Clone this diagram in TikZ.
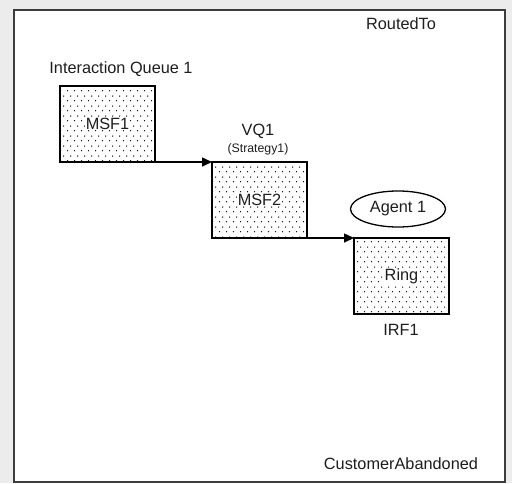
\documentclass[tikz,border=0pt]{standalone}
\usepackage{fontspec}
\setmainfont{Liberation Sans}
\usetikzlibrary{arrows.meta,shapes.geometric,patterns.meta}
\definecolor{outerbg}{HTML}{ECECEC}
\definecolor{framecol}{HTML}{3C3C3C}
\definecolor{txtcol}{HTML}{1E1E1E}
\tikzdeclarepattern{
  name=stagdots,
  type=colored,
  bounding box={(0pt,0pt) and (6.6pt,10pt)},
  tile size={(6.6pt,10pt)},
  code={
    \fill[black] (1.6pt,2.5pt) circle (0.75pt);
    \fill[black] (4.9pt,7.5pt) circle (0.75pt);
  }
}
\tikzset{
  dotbox/.style={draw=black, line width=1.8pt, rectangle, minimum width=95pt, minimum height=76pt, inner sep=0pt, outer sep=0pt, pattern=stagdots},
  boxtext/.style={fill=white, inner sep=0.5pt, font=\fontsize{16.3}{18}\selectfont, text=txtcol},
  lbl/.style={inner sep=0pt, font=\fontsize{16.3}{18}\selectfont, text=txtcol},
  smalllbl/.style={inner sep=0pt, font=\fontsize{12.3}{14}\selectfont, text=txtcol},
  flow/.style={draw=black, line width=1.5pt, -{Triangle[length=10pt,width=9pt]}},
  agentshape/.style={ellipse, draw=black, line width=1.3pt, minimum width=95pt, minimum height=36pt, inner sep=0pt, font=\fontsize{16.3}{18}\selectfont, text=txtcol}
}
\begin{document}
\begin{tikzpicture}[x=1pt,y=-1pt]
\useasboundingbox (0,0) rectangle (512,483);
\fill[outerbg] (0,0) rectangle (512,483);
\draw[framecol, line width=2pt, fill=white] (14,9.5) rectangle (505,482);
% boxes
\node[dotbox] (msf1) at (107.5,124) {};
\node[dotbox] (msf2) at (259.5,200) {};
\node[dotbox] (ring) at (401.5,276) {};
\node[boxtext] (msf1t) at (msf1.center) {MSF1};
\node[boxtext] (msf2t) at (msf2.center) {MSF2};
\node[boxtext] (ringt) at (ring.center) {Ring};
% labels
\node[lbl] (routed) at (401,24) {RoutedTo};
\node[lbl] (iq1) at (121,69) {Interaction Queue 1};
\node[lbl] (vq1) at (258,131) {VQ1};
\node[smalllbl] (strat) at (258,149) {(Strategy1)};
\node[lbl] (irf1) at (401,330) {IRF1};
\node[lbl] (abandon) at (401,464) {CustomerAbandoned};
\node[agentshape] (agent) at (398,209) {Agent 1};
% connectors
\draw[flow] (msf1.south east) -- (msf2.north west);
\draw[flow] (msf2.south east) -- (ring.north west);
\end{tikzpicture}
\end{document}
